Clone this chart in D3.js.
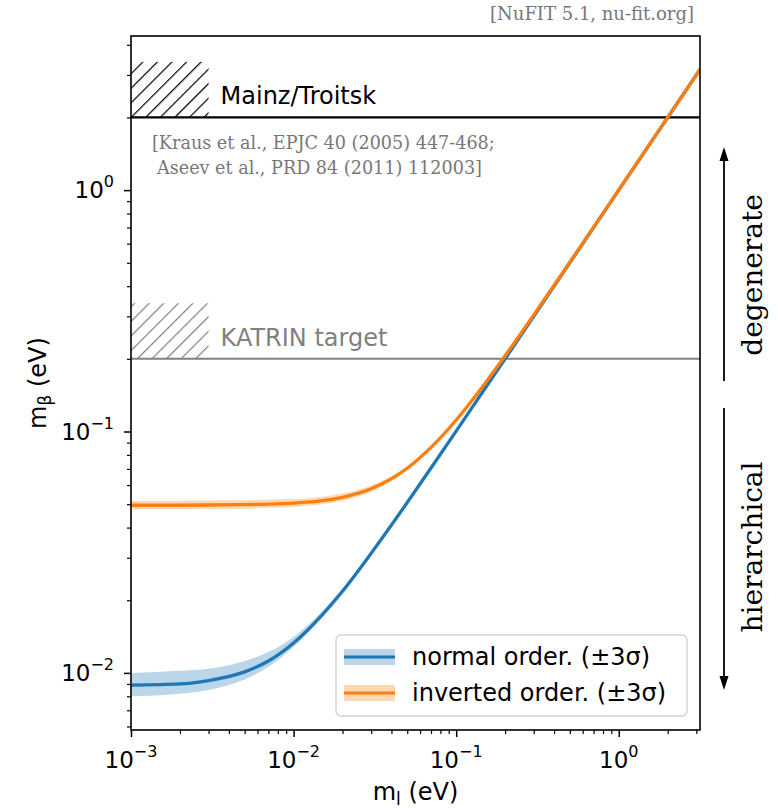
<!DOCTYPE html>
<html>
<head>
<meta charset="utf-8">
<script src="https://cdn.jsdelivr.net/npm/d3@7"></script>
<style>
  body { margin: 0; background: #fff; }
  svg { display: block; font-family: "DejaVu Sans", sans-serif; }
</style>
</head>
<body>
<svg id="chart"></svg>
<script>
// lightest neutrino mass (eV) and effective beta-decay mass
let lightestMass = [0.001, 0.002, 0.003, 0.005, 0.007, 0.01, 0.015, 0.02, 0.03, 0.05, 0.07, 0.1, 0.15, 0.2, 0.3, 0.5, 1, 2, 3.16];

let normalMid  = [0.0089, 0.0090, 0.0093, 0.0101, 0.0112, 0.0133, 0.0174, 0.0218, 0.0313, 0.0508, 0.0706, 0.1004, 0.1503, 0.2002, 0.3001, 0.5001, 1.0, 2.0, 3.16];
let normalLow  = [0.0080, 0.0082, 0.0085, 0.0094, 0.0106, 0.0128, 0.0170, 0.0215, 0.0310, 0.0506, 0.0704, 0.1003, 0.1502, 0.2001, 0.3001, 0.5001, 1.0, 2.0, 3.16];
let normalHigh = [0.0100, 0.0102, 0.0104, 0.0112, 0.0122, 0.0141, 0.0180, 0.0224, 0.0316, 0.0510, 0.0707, 0.1005, 0.1503, 0.2003, 0.3002, 0.5001, 1.0, 2.0, 3.16];

let invertedMid  = [0.0495, 0.0495, 0.0496, 0.0498, 0.0500, 0.0505, 0.0517, 0.0534, 0.0579, 0.0704, 0.0859, 0.1116, 0.1578, 0.2059, 0.3041, 0.5025, 1.0012, 2.0006, 3.1604];
let invertedLow  = [0.0478, 0.0478, 0.0479, 0.0480, 0.0483, 0.0488, 0.0500, 0.0517, 0.0564, 0.0691, 0.0849, 0.1108, 0.1574, 0.2056, 0.3038, 0.5023, 1.0011, 2.0006, 3.1604];
let invertedHigh = [0.0517, 0.0517, 0.0518, 0.0519, 0.0522, 0.0525, 0.0537, 0.0553, 0.0597, 0.0718, 0.0871, 0.1125, 0.1587, 0.2066, 0.3044, 0.5027, 1.0013, 2.0007, 3.1604];

let seriesNames = ["normal order. (\u00b13\u03c3)", "inverted order. (\u00b13\u03c3)"];

// experimental limits: line value, top of hatched box, hatched box x-range
let limitNames = ["Mainz/Troitsk", "KATRIN target"];
let limitValues = [2.0, 0.2];
let limitHatchTop = [3.4, 0.34];
let hatchRange = [0.001, 0.003];

let xMajorTicks = [1e-3, 1e-2, 1e-1, 1e0];
let xTickExp = ["\u22123", "\u22122", "\u22121", "0"];
let yMajorTicks = [1e-2, 1e-1, 1e0];
let yTickExp = ["\u22122", "\u22121", "0"];

let xDomain = [1e-3, 3.16];
let yDomain = [0.0058, 4.35];

let width = 778;
let height = 808;
let margin = { top: 36, right: 78, bottom: 78, left: 131 };
let blue = "#1f77b4";
let orange = "#ff7f0e";

drawChart();

function minorTicks(domain) {
  let ticks = [];
  for (let e = -4; e <= 1; e++) {
    for (let m = 2; m <= 9; m++) {
      let v = m * Math.pow(10, e);
      if (v >= domain[0] && v <= domain[1]) ticks.push(v);
    }
  }
  return ticks;
}

function drawChart() {
  let svg = d3.select("#chart")
    .attr("width", width)
    .attr("height", height);

  let xScale = d3.scaleLog()
    .domain(xDomain)
    .range([margin.left, width - margin.right]);

  let yScale = d3.scaleLog()
    .domain(yDomain)
    .range([height - margin.bottom, margin.top]);

  let defs = svg.append("defs");

  defs.append("clipPath")
    .attr("id", "plotArea")
    .append("rect")
    .attr("x", margin.left)
    .attr("y", margin.top)
    .attr("width", width - margin.left - margin.right)
    .attr("height", height - margin.top - margin.bottom);

  [["hatchBlack", "#000"], ["hatchGrey", "#808080"]].forEach(([id, col]) => {
    defs.append("pattern")
      .attr("id", id)
      .attr("patternUnits", "userSpaceOnUse")
      .attr("width", 10.3)
      .attr("height", 10.3)
      .attr("patternTransform", "rotate(45)")
      .append("line")
      .attr("x1", 0).attr("y1", -1)
      .attr("x2", 0).attr("y2", 11.3)
      .attr("stroke", col)
      .attr("stroke-width", 2.4);
  });

  let plot = svg.append("g").attr("clip-path", "url(#plotArea)");

  let idx = d3.range(lightestMass.length);

  let area = (lo, hi) => d3.area()
    .x(i => xScale(lightestMass[i]))
    .y0(i => yScale(lo[i]))
    .y1(i => yScale(hi[i]))
    .curve(d3.curveMonotoneX);

  let line = (mid) => d3.line()
    .x(i => xScale(lightestMass[i]))
    .y(i => yScale(mid[i]))
    .curve(d3.curveMonotoneX);

  // limit lines and hatched boxes
  let limitColors = ["#000", "#808080"];
  let hatchIds = ["hatchBlack", "hatchGrey"];

  limitValues.forEach((v, k) => {
    plot.append("rect")
      .attr("x", xScale(hatchRange[0]))
      .attr("y", yScale(limitHatchTop[k]))
      .attr("width", xScale(hatchRange[1]) - xScale(hatchRange[0]))
      .attr("height", yScale(v) - yScale(limitHatchTop[k]))
      .attr("fill", "url(#" + hatchIds[k] + ")");

    plot.append("line")
      .attr("x1", xScale(xDomain[0]))
      .attr("x2", xScale(xDomain[1]))
      .attr("y1", yScale(v))
      .attr("y2", yScale(v))
      .attr("stroke", limitColors[k])
      .attr("stroke-width", k == 0 ? 2.2 : 2);

    svg.append("text")
      .attr("x", xScale(hatchRange[1]) + 12)
      .attr("y", yScale(v) - 13)
      .style("font-size", "24px")
      .style("fill", limitColors[k])
      .text(limitNames[k]);
  });

  // bands then central curves
  plot.append("path")
    .attr("d", area(normalLow, normalHigh)(idx))
    .attr("fill", blue)
    .attr("fill-opacity", 0.3);

  plot.append("path")
    .attr("d", area(invertedLow, invertedHigh)(idx))
    .attr("fill", orange)
    .attr("fill-opacity", 0.3);

  plot.append("path")
    .attr("d", line(normalMid)(idx))
    .attr("fill", "none")
    .attr("stroke", blue)
    .attr("stroke-width", 3.3);

  plot.append("path")
    .attr("d", line(invertedMid)(idx))
    .attr("fill", "none")
    .attr("stroke", orange)
    .attr("stroke-width", 3.3);

  // axes
  let xAxisY = height - margin.bottom;

  svg.append("g")
    .attr("transform", `translate(0, ${xAxisY})`)
    .call(d3.axisBottom(xScale).tickValues(minorTicks(xDomain)).tickSize(4).tickFormat(""))
    .call(g => g.select(".domain").remove())
    .selectAll("line").attr("stroke-width", 1.2);

  svg.append("g")
    .attr("transform", `translate(0, ${xAxisY})`)
    .call(d3.axisBottom(xScale).tickValues(xMajorTicks).tickSize(7).tickFormat(""))
    .call(g => g.select(".domain").remove())
    .selectAll("line").attr("stroke-width", 1.5);

  svg.append("g")
    .attr("transform", `translate(${margin.left}, 0)`)
    .call(d3.axisLeft(yScale).tickValues(minorTicks(yDomain)).tickSize(4).tickFormat(""))
    .call(g => g.select(".domain").remove())
    .selectAll("line").attr("stroke-width", 1.2);

  svg.append("g")
    .attr("transform", `translate(${margin.left}, 0)`)
    .call(d3.axisLeft(yScale).tickValues(yMajorTicks).tickSize(7).tickFormat(""))
    .call(g => g.select(".domain").remove())
    .selectAll("line").attr("stroke-width", 1.5);

  let xLabels = svg.append("g").selectAll("text")
    .data(xMajorTicks)
    .enter().append("text")
    .attr("x", d => xScale(d))
    .attr("y", xAxisY + 38)
    .style("text-anchor", "middle")
    .style("font-size", "23px");
  xLabels.append("tspan").text("10");
  xLabels.append("tspan").attr("dy", -11).style("font-size", "16px").text((d, i) => xTickExp[i]);

  let yLabels = svg.append("g").selectAll("text")
    .data(yMajorTicks)
    .enter().append("text")
    .attr("x", margin.left - 17)
    .attr("y", d => yScale(d) + 8)
    .style("text-anchor", "end")
    .style("font-size", "23px");
  yLabels.append("tspan").text("10");
  yLabels.append("tspan").attr("dy", -11).style("font-size", "16px").text((d, i) => yTickExp[i]);

  // frame
  svg.append("rect")
    .attr("x", margin.left)
    .attr("y", margin.top)
    .attr("width", width - margin.left - margin.right)
    .attr("height", height - margin.top - margin.bottom)
    .attr("fill", "none")
    .attr("stroke", "#000")
    .attr("stroke-width", 1.6);

  // axis titles
  let xTitle = svg.append("text")
    .attr("x", (margin.left + width - margin.right) / 2)
    .attr("y", height - 8)
    .style("text-anchor", "middle")
    .style("font-size", "24px");
  xTitle.append("tspan").text("m");
  xTitle.append("tspan").attr("dy", 5).style("font-size", "17px").text("l");
  xTitle.append("tspan").attr("dy", -5).text(" (eV)");

  let yTitle = svg.append("text")
    .attr("transform", `translate(46, ${(margin.top + height - margin.bottom) / 2}) rotate(-90)`)
    .style("text-anchor", "middle")
    .style("font-size", "24px");
  yTitle.append("tspan").text("m");
  yTitle.append("tspan").attr("dy", 5).style("font-size", "17px").text("\u03b2");
  yTitle.append("tspan").attr("dy", -5).text(" (eV)");

  // citations
  let serif = "DejaVu Serif, serif";
  svg.append("text")
    .attr("x", 694)
    .attr("y", 20)
    .style("text-anchor", "end")
    .style("font-family", serif)
    .style("font-size", "18px")
    .style("fill", "#777")
    .text("[NuFIT 5.1, nu-fit.org]");

  svg.append("text")
    .attr("x", 152)
    .attr("y", 149)
    .style("font-family", serif)
    .style("font-size", "17.6px")
    .style("fill", "#777")
    .text("[Kraus et al., EPJC 40 (2005) 447-468;");

  svg.append("text")
    .attr("x", 157)
    .attr("y", 174)
    .style("font-family", serif)
    .style("font-size", "17.6px")
    .style("fill", "#777")
    .text("Aseev et al., PRD 84 (2011) 112003]");

  // degenerate / hierarchical arrows
  let arrowX = 724;
  let arrows = [[381, 147], [408, 690]];
  arrows.forEach(([from, to]) => {
    let dir = to < from ? 1 : -1;
    svg.append("line")
      .attr("x1", arrowX).attr("x2", arrowX)
      .attr("y1", from).attr("y2", to + dir * 10)
      .attr("stroke", "#000")
      .attr("stroke-width", 1.8);
    svg.append("path")
      .attr("d", `M${arrowX},${to} L${arrowX - 4.5},${to + dir * 14} L${arrowX + 4.5},${to + dir * 14} Z`)
      .attr("fill", "#000");
  });

  [["degenerate", 275], ["hierarchical", 547]].forEach(([t, cy]) => {
    svg.append("text")
      .attr("transform", `translate(762, ${cy}) rotate(-90)`)
      .style("text-anchor", "middle")
      .style("font-family", serif)
      .style("font-size", "28px")
      .text(t);
  });

  // legend
  let legend = svg.append("g");
  legend.append("rect")
    .attr("x", 336)
    .attr("y", 635)
    .attr("width", 351)
    .attr("height", 81)
    .attr("rx", 5)
    .attr("fill", "#fff")
    .attr("fill-opacity", 0.8)
    .attr("stroke", "#d3d3d3")
    .attr("stroke-width", 1.4);

  let legendColors = [blue, orange];
  seriesNames.forEach((name, k) => {
    let ly = 657 + k * 36;
    legend.append("rect")
      .attr("x", 344)
      .attr("y", ly - 8)
      .attr("width", 51)
      .attr("height", 16)
      .attr("fill", legendColors[k])
      .attr("fill-opacity", 0.3);
    legend.append("line")
      .attr("x1", 344).attr("x2", 395)
      .attr("y1", ly).attr("y2", ly)
      .attr("stroke", legendColors[k])
      .attr("stroke-width", 3.2);
    legend.append("text")
      .attr("x", 412)
      .attr("y", ly + 8)
      .style("font-size", "24px")
      .text(name);
  });
}
</script>
</body>
</html>
